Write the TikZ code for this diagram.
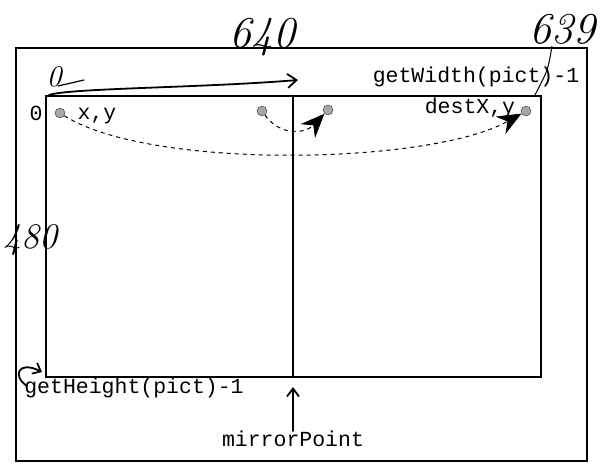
\documentclass[tikz,border=0pt]{standalone}
\usepackage{fontspec}
\newfontfamily\codefont{Liberation Mono}
\usetikzlibrary{arrows.meta,positioning}

\begin{document}
\begin{tikzpicture}[
    x=1pt, y=-1pt,
    lbl/.style={font=\codefont\fontsize{21.5}{24}\selectfont, inner sep=0pt},
    hand/.style={font=\itshape\fontsize{44}{44}\selectfont, inner sep=0pt},
    pix/.style={circle, fill=gray!70, draw=gray!40!black, minimum size=10pt, inner sep=0pt},
    frame/.style={line width=1.6pt},
    move/.style={dash pattern=on 4pt off 4pt, line width=1pt, -{Stealth[length=24pt,width=20pt,inset=8pt]}},
    pen/.style={line width=1.8pt, line cap=round, line join=round}
]
    \useasboundingbox (0,0) rectangle (600,464);
    % frame and picture
    \draw[frame] (16,48) rectangle (587,461);
    \draw[frame] (46,96) rectangle (541,377);
    \coordinate (mtop) at (293,96);
    \coordinate (mbot) at (293,377);
    \draw[frame] (mtop) -- (mbot);

    % pixels
    \node[pix] (src) at (60,113) {};
    \node[pix] (mid) at (262,111) {};
    \node[pix] (mdst) at (328,110) {};
    \node[pix] (dst) at (526,111) {};
    \draw[move] (mid) .. controls (280,136) and (305,134) .. (mdst);
    \draw[move] (src) .. controls (150,170) and (430,165) .. (dst);

    % labels
    \node[lbl] (zero) at (36,113) {0};
    \node[lbl] (xy) at (97,116) {x,y};
    \node[lbl] (dxy) at (470,108) {destX,y};
    \node[lbl] (gw) at (476,77) {getWidth(pict)-1};
    \node[lbl] (gh) at (134,388) {getHeight(pict)-1};
    \node[lbl] (mp) at (293,439) {mirrorPoint};
    \draw[pen, -{Straight Barb[length=8pt,width=12pt]}, shorten >=10pt] (mp.north) -- (mbot);

    % handwriting
    \node[hand] (w) at (262,37) {640};
    \node[hand] (wm) at (562,29) {639};
    \node[hand, font=\itshape\fontsize{36}{36}\selectfont] (h) at (30,240) {480};
    \node[hand, font=\itshape\fontsize{30}{30}\selectfont] (h0) at (54,77) {0};
    \coordinate (hs) at (49,95);
    \coordinate (he) at (298,80);
    \draw[pen, -{Straight Barb[length=9pt,width=14pt]}] (hs) .. controls (70,88) and (200,88) .. (he);
    \draw[pen, line width=1.2pt] (58,86) -- (84,80);
    \draw[line width=1pt] (552,46) .. controls (548,70) .. (535,95);
    \draw[pen, -{Straight Barb[length=7pt,width=12pt]}] (27,386) .. controls (12,376) and (18,360) .. (42,372);
\end{tikzpicture}
\end{document}
